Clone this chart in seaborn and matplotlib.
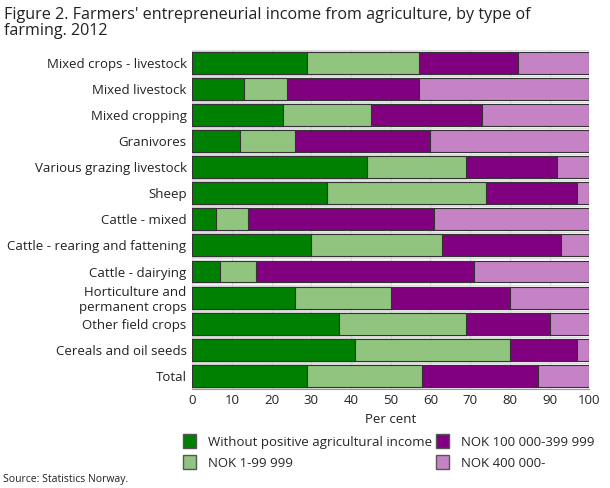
import numpy as np
import pandas as pd
import matplotlib
matplotlib.use("Agg")
import matplotlib.pyplot as plt
import seaborn as sns
from matplotlib.patches import Patch

# data (per cent)
farm_types = ["Mixed crops - livestock", "Mixed livestock", "Mixed cropping", "Granivores",
              "Various grazing livestock", "Sheep", "Cattle - mixed",
              "Cattle - rearing and fattening", "Cattle - dairying",
              "Horticulture and\npermanent crops", "Other field crops",
              "Cereals and oil seeds", "Total"]
no_income = [29, 13, 23, 12, 44, 34, 6, 30, 7, 26, 37, 41, 29]
nok_1_99 = [28, 11, 22, 14, 25, 40, 8, 33, 9, 24, 32, 39, 29]
nok_100_399 = [25, 33, 28, 34, 23, 23, 47, 30, 55, 30, 21, 17, 29]
nok_400 = [18, 43, 27, 40, 8, 3, 39, 7, 29, 20, 10, 3, 13]

series_names = ["Without positive agricultural income", "NOK 1-99 999",
                "NOK 100 000-399 999", "NOK 400 000-"]
colors = ["#008000", "#90c47f", "#800080", "#c583c5"]

df = pd.DataFrame({"type": farm_types, "s0": no_income, "s1": nok_1_99,
                   "s2": nok_100_399, "s3": nok_400})
cum = df[["s0", "s1", "s2", "s3"]].cumsum(axis=1)
cum["type"] = df["type"]

sns.set_style("white")
plt.rcParams["font.family"] = ["Open Sans", "DejaVu Sans"]

fig = plt.figure(figsize=(6.1, 4.88), dpi=100)
ax = fig.add_axes([0.315, 0.203, 0.651, 0.695])

# stacked bars: draw cumulative totals from the right-most segment back
for i in [3, 2, 1, 0]:
    sns.barplot(data=cum, x="s%d" % i, y="type", orient="h", color=colors[i],
                saturation=1, width=0.84, edgecolor="#333333", linewidth=0.8, ax=ax)

ax.set_xlim(0, 100)
ax.set_xticks(range(0, 101, 10))
ax.set_xlabel("Per cent", fontsize=9.5, color="#222222")
ax.set_ylabel("")
ax.tick_params(axis="both", labelsize=9.5, colors="#222222", length=0, pad=4)
ax.set_axisbelow(True)
ax.grid(axis="x", color="#dddddd", linewidth=1)
for yb in np.arange(-0.5, len(farm_types), 1):
    ax.axhline(yb, color="#dddddd", linewidth=1, zorder=0)
for s in ["top", "right", "left"]:
    ax.spines[s].set_visible(False)
ax.spines["bottom"].set_color("#999999")

fig.text(0.007, 0.985, "Figure 2. Farmers' entrepreneurial income from agriculture, by type of\nfarming. 2012",
         fontsize=11.6, va="top", ha="left", color="#222222", linespacing=1.0)

handles = [Patch(facecolor=c, edgecolor="#555555") for c in colors]
fig.legend(handles, series_names, loc="upper left", bbox_to_anchor=(0.28, 0.134),
           ncol=2, frameon=False, fontsize=9.5, handlelength=1.0, handleheight=1.2,
           columnspacing=0.3, handletextpad=0.9, labelspacing=0.5)

fig.text(0.005, 0.012, "Source: Statistics Norway.", fontsize=7.5, color="#222222")

fig.savefig("out.png", dpi=100)
